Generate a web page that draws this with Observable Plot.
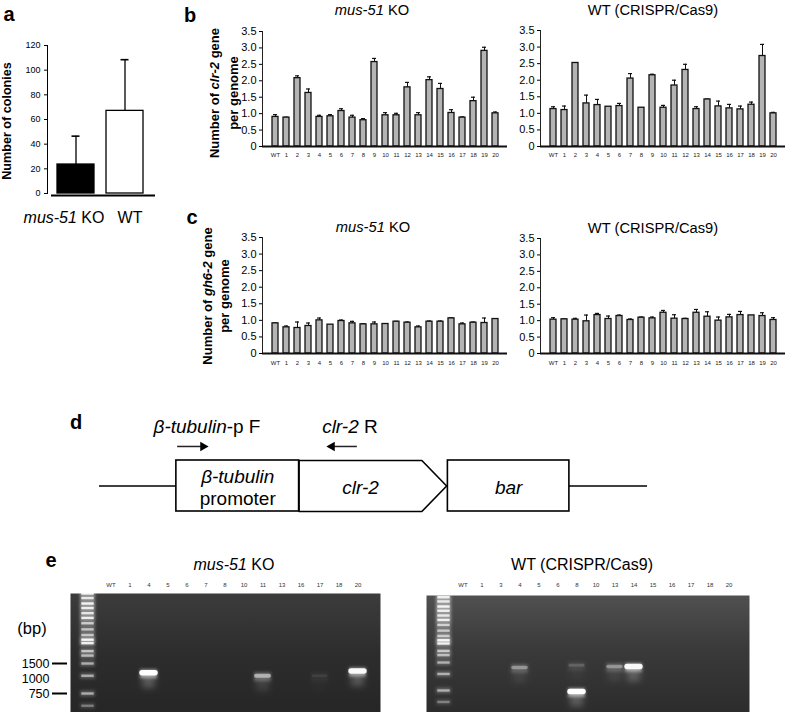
<!DOCTYPE html>
<html><head><meta charset="utf-8">
<script src="https://cdn.jsdelivr.net/npm/d3@7"></script>
<script src="https://cdn.jsdelivr.net/npm/@observablehq/plot@0.6"></script>
<style>
body{margin:0;background:#fff;}
#fig{position:relative;width:785px;height:712px;overflow:hidden;background:#fff;font-family:'Liberation Sans',Arial,Helvetica,sans-serif;color:#000;}
.t{position:absolute;transform:translate(-50%,-50%);white-space:nowrap;line-height:1;}
.r{transform:translate(-50%,-50%) rotate(-90deg);text-align:center;font-weight:bold;}
.L{font-weight:bold;font-size:20px;}
</style></head><body>
<div id="fig">
<div class="t L" style="left:9px;top:14px">a</div>
<div class="t L" style="left:190px;top:15px">b</div>
<div class="t L" style="left:192px;top:217px">c</div>
<div class="t L" style="left:76px;top:422px">d</div>
<div class="t L" style="left:51px;top:560px">e</div>
<div class="t r" style="left:7px;top:121px;font-size:12.6px">Number of colonies</div>
<div class="t r" style="left:224px;top:93px;font-size:13px;line-height:19px">Number of <i>clr-2</i> gene<br>per genome</div>
<div class="t r" style="left:216px;top:296px;font-size:13px;line-height:17px">Number of <i>gh6-2</i> gene<br>per genome</div>
<div class="t" style="left:372px;top:10px;font-size:14.7px"><i>mus-51</i> KO</div>
<div class="t" style="left:653px;top:10px;font-size:14.7px">WT (CRISPR/Cas9)</div>
<div class="t" style="left:373px;top:227px;font-size:14.7px"><i>mus-51</i> KO</div>
<div class="t" style="left:653px;top:228px;font-size:14.7px">WT (CRISPR/Cas9)</div>
<div class="t" style="left:234px;top:565px;font-size:16px"><i>mus-51</i> KO</div>
<div class="t" style="left:582px;top:565px;font-size:16px">WT (CRISPR/Cas9)</div>
<div class="t" style="left:32px;top:628px;font-size:16.5px">(bp)</div>
</div>
<script>
const FONT = "'Liberation Sans', Arial, Helvetica, sans-serif";
const NS = "http://www.w3.org/2000/svg";

// ---- panel a: colony counts ----
const colonyGroups = ["mus-51 KO", "WT"];
const colonyMean = [23.5, 67];
const colonySD = [23, 41.5];
const colonyTicks = [0, 20, 40, 60, 80, 100, 120];

// ---- panels b, c: copy numbers per genome ----
const clones = ["WT","1","2","3","4","5","6","7","8","9","10","11","12","13","14","15","16","17","18","19","20"];
const clrKO   = [0.90,0.88,2.08,1.63,0.90,0.92,1.08,0.88,0.80,2.57,0.95,0.95,1.80,0.95,2.02,1.75,1.02,0.88,1.38,2.91,1.01];
const clrKOsd = [0.07,0.01,0.07,0.12,0.05,0.05,0.07,0.07,0.05,0.11,0.08,0.06,0.15,0.08,0.10,0.17,0.10,0.02,0.12,0.11,0.04];
const clrWT   = [1.13,1.10,2.52,1.30,1.25,1.20,1.22,2.05,1.17,2.15,1.17,1.84,2.31,1.13,1.42,1.21,1.15,1.12,1.26,2.73,1.00];
const clrWTsd = [0.07,0.12,0.01,0.25,0.17,0.00,0.08,0.15,0.00,0.03,0.07,0.16,0.17,0.07,0.01,0.16,0.12,0.10,0.08,0.35,0.03];
const ghKO    = [0.91,0.79,0.77,0.83,1.00,0.87,0.98,0.91,0.88,0.88,0.89,0.96,0.93,0.79,0.96,0.96,1.06,0.88,0.93,0.92,1.04];
const ghKOsd  = [0.01,0.04,0.18,0.09,0.07,0.00,0.03,0.06,0.02,0.07,0.01,0.01,0.02,0.04,0.02,0.02,0.02,0.04,0.02,0.15,0.01];
const ghWT    = [1.03,1.04,1.03,0.98,1.17,1.05,1.14,1.02,1.09,1.07,1.24,1.06,1.05,1.24,1.12,1.00,1.10,1.17,1.16,1.14,1.02];
const ghWTsd  = [0.06,0.01,0.04,0.19,0.05,0.09,0.03,0.03,0.02,0.04,0.07,0.12,0.02,0.10,0.15,0.11,0.09,0.11,0.00,0.10,0.07];
const copyTicks = [0, 0.5, 1, 1.5, 2, 2.5, 3, 3.5];

// ---- panel d: construct map (arbitrary kb-like units) ----
const elementNames = ["*β-tubulin*\npromoter", "*clr-2*", "*bar*"];
const elementStart = [0.62, 1.61, 2.81];
const elementEnd   = [1.61, 2.80, 3.79];
const constructLength = 4.42;
const primerNames  = ["*β-tubulin*-p F", "*clr-2* R"];
const primerFrom   = [0.63, 2.08];
const primerTo     = [0.835, 1.875];
const primerLabelX = [0.867, 2.02];

// ---- panel e: PCR gels ----
const ladderBp = [7550,6800,6000,5400,4800,4300,3800,3300,2900,2600,2400,2000,1800,1500,1130,750,565];
const ladderI  = [0.85,0.8,0.9,0.85,0.8,0.85,0.65,0.6,0.6,0.9,0.85,0.6,0.55,0.5,0.5,0.5,0.3];
const markerBp = [1500, 750];      // markers drawn with a dash
const markerPlainBp = [1000];      // marker label without a dash
const lanesKO = ["WT","1","4","5","6","7","8","10","11","13","16","17","18","20"];
const bandLaneKO = ["4","11","17","20"];
const bandBpKO   = [1210, 1130, 1130, 1260];
const bandIKO    = [1.0, 0.5, 0.07, 0.95];
const lanesWT = ["WT","1","3","4","5","6","8","10","13","14","15","16","17","18","20"];
const bandLaneWT = ["4","8","8","13","14"];
const bandBpWT   = [1325, 1400, 731, 1360, 1360];
const bandIWT    = [0.35, 0.15, 1.0, 0.35, 0.95];

const fig = document.getElementById("fig");
const baseStyle = {fontFamily: FONT, background: "transparent", overflow: "visible", color: "#000"};

function italicize(root) {
  root.querySelectorAll("text, tspan").forEach(el => {
    if (el.childElementCount) return;
    const s = el.textContent;
    if (!s.includes("*")) return;
    el.textContent = "";
    s.split("*").forEach((part, k) => {
      if (!part) return;
      const t = document.createElementNS(NS, "tspan");
      if (k % 2) t.setAttribute("font-style", "italic");
      t.textContent = part;
      el.appendChild(t);
    });
  });
}
function place(svg, left, top) {
  svg.style.position = "absolute";
  svg.style.left = left + "px";
  svg.style.top = top + "px";
  svg.style.maxWidth = "none";
  italicize(svg);
  fig.appendChild(svg);
  return svg;
}

// ---- panel a ----
{
  const aData = colonyGroups.map((g, i) => ({g, v: colonyMean[i], hi: colonyMean[i] + colonySD[i]}));
  const ital = d => d.replace("mus-51", "*mus-51*");
  const svg = Plot.plot({
    width: 160, height: 230, marginLeft: 47, marginRight: 5, marginTop: 45, marginBottom: 37,
    style: baseStyle,
    x: {type: "band", domain: colonyGroups, paddingInner: 0.24, paddingOuter: 0.215, align: 0.46},
    y: {domain: [0, 120]},
    color: {domain: colonyGroups, range: ["#000", "#fff"]},
    marks: [
      Plot.frame({anchor: "left", strokeWidth: 1}),
      Plot.axisY(colonyTicks, {tickSize: 3, tickPadding: 4, fontSize: 9, label: null}),
      Plot.axisX([colonyGroups[0]], {tickSize: 0, tickPadding: 18, fontSize: 16, dx: -12, label: null, tickFormat: ital}),
      Plot.axisX([colonyGroups[1]], {tickSize: 0, tickPadding: 18, fontSize: 16, dx: 5, label: null, tickFormat: ital}),
      Plot.ruleX(aData, {x: "g", y1: "v", y2: "hi", strokeWidth: 1.3}),
      Plot.tickY(aData, {x: "g", y: "hi", insetLeft: 14.5, insetRight: 14.5, strokeWidth: 1.6}),
      Plot.barY(aData, {x: "g", y: "v", fill: "g", stroke: "#000", strokeWidth: 1.3}),
      Plot.ruleY([0], {strokeWidth: 2, dy: 2, insetLeft: 4})
    ]
  });
  place(svg, 0, 0);
}

// ---- panels b, c ----
function qpcr(values, sds, left, top, width, height, ml, mt, mb, tp) {
  const data = clones.map((c, i) => ({clone: c, v: values[i], sd: sds[i], hi: values[i] + sds[i]}));
  const err = data.filter(d => d.sd > 0);
  const svg = Plot.plot({
    width, height, marginLeft: ml, marginRight: 0, marginTop: mt, marginBottom: mb,
    style: baseStyle,
    x: {type: "band", domain: clones, paddingInner: 0.48, paddingOuter: 0.435},
    y: {domain: [0, 3.5]},
    marks: [
      Plot.frame({anchor: "left", stroke: "#222"}),
      Plot.axisY(copyTicks, {tickSize: 3, tickPadding: 3, fontSize: 11, label: null, tickFormat: d => d === 0 ? "0" : d.toFixed(1)}),
      Plot.axisX(clones, {tickSize: 0, tickPadding: tp, fontSize: 6, label: null, fill: "#222"}),
      Plot.ruleX(err, {x: "clone", y1: "v", y2: "hi", stroke: "#111", strokeWidth: 1}),
      Plot.tickY(err, {x: "clone", y: "hi", stroke: "#111", insetLeft: 1, insetRight: 1, strokeWidth: 1.2}),
      Plot.barY(data, {x: "clone", y: "v", fill: "#b4b4b4", stroke: "#111", strokeWidth: 1.3}),
      Plot.ruleY([0], {stroke: "#111", strokeWidth: 2})
    ]
  });
  place(svg, left, top);
}
qpcr(clrKO, clrKOsd, 190, 0, 317, 165, 72, 31, 19, 6.5);
qpcr(clrWT, clrWTsd, 480, 0, 305, 165, 60, 30, 19, 6.5);
qpcr(ghKO, ghKOsd, 190, 200, 317, 175, 72, 37, 22, 7.5);
qpcr(ghWT, ghWTsd, 480, 200, 305, 175, 60, 38, 22, 7.5);

// ---- panel d ----
{
  const elems = elementNames.map((n, i) => ({name: n, start: elementStart[i], end: elementEnd[i]}));
  const tipLen = 0.2;
  const boxes = elems.filter(d => d.name !== "*clr-2*");
  const cds = elems.find(d => d.name === "*clr-2*");
  const pent = [[cds.start, 1], [cds.end - tipLen, 1], [cds.end, 0], [cds.end - tipLen, -1], [cds.start, -1]].map(([x, y]) => ({x, y}));
  const labels = elems.map(d => ({name: d.name, x: d === cds ? (d.start + d.end - tipLen) / 2 : (d.start + d.end) / 2}));
  const flanks = [{start: 0, end: elementStart[0]}, {start: elementEnd[elementEnd.length - 1], end: constructLength}];
  const primers = primerNames.map((n, i) => ({name: n, from: primerFrom[i], to: primerTo[i], lx: primerLabelX[i], dir: Math.sign(primerTo[i] - primerFrom[i])}));
  const svg = Plot.plot({
    width: 785, height: 150, margin: 0,
    style: baseStyle,
    x: {domain: [0, constructLength], range: [99, 647], axis: null},
    y: {domain: [-1, 1], range: [121, 70], axis: null},
    marks: [
      Plot.ruleY(flanks, {x1: "start", x2: "end", y: 0, strokeWidth: 1.6}),
      Plot.rect(boxes, {x1: "start", x2: "end", y1: -1, y2: 1, fill: "white", stroke: "#000", strokeWidth: 1.6}),
      Plot.line(pent, {x: "x", y: "y", curve: "linear-closed", fill: "white", stroke: "#000", strokeWidth: 1.6}),
      Plot.text(labels, {x: "x", y: 0, text: "name", fontSize: 19, lineHeight: 1.16, dy: 1}),
      Plot.ruleY(primers, {x1: "from", x2: "to", y: 1.55, stroke: "#222", strokeWidth: 1.5}),
      Plot.dot(primers, {x: "to", y: 1.55, symbol: "triangle", r: 3.6, fill: "#000", stroke: "none", rotate: d => d.dir > 0 ? 90 : -90}),
      Plot.text(primers, {x: "lx", y: 2.33, text: "name", fontSize: 19})
    ]
  });
  place(svg, 0, 390);
}

// ---- panel e (y: migration on log10 of fragment size) ----
const lg = Math.log10;
function gel(lanes, bandLane, bandBp, bandI, left, top, ml, mr, mt, xr, yr, ladderDx, id, grad, showAxis, tp) {
  const ladder = ladderBp.map((bp, i) => ({lane: "M", bp, i: ladderI[i]}));
  const bands = bandLane.map((l, i) => ({lane: l, bp: bandBp[i], i: bandI[i]}));
  const Y = d => lg(d.bp);
  const fmt = d => String(Math.round(10 ** d));
  const marks = [
    Plot.frame({fill: `url(#${id}g)`, stroke: "none"}),
    Plot.tickY(ladder, {x: "lane", y: Y, stroke: "white", strokeOpacity: d => d.i * 0.45, strokeWidth: 6, insetLeft: 2, insetRight: 2, dx: ladderDx, ariaDescription: "ladder glow"}),
    Plot.tickY(ladder, {x: "lane", y: Y, stroke: "white", strokeOpacity: "i", strokeWidth: 2.4, insetLeft: 3.3, insetRight: 3.3, dx: ladderDx, ariaDescription: "ladder"}),
    Plot.tickY(bands, {x: "lane", y: Y, stroke: "white", strokeOpacity: d => d.i * 0.22, strokeWidth: 14, dy: 8, insetLeft: 3, insetRight: 3, ariaDescription: "band smear"}),
    Plot.tickY(bands, {x: "lane", y: Y, stroke: "white", strokeOpacity: d => d.i * 0.5, strokeWidth: 9, dy: 1, insetLeft: 1, insetRight: 1, ariaDescription: "band glow"}),
    Plot.tickY(bands, {x: "lane", y: Y, stroke: "white", strokeOpacity: "i", strokeWidth: d => 2.5 + 3 * d.i, insetLeft: 3, insetRight: 3, strokeLinecap: "round", ariaDescription: "band"}),
    Plot.axisX(lanes, {anchor: "top", tickSize: 0, tickPadding: tp, fontSize: 6, label: null, fill: "#333"})
  ];
  if (showAxis) {
    marks.push(Plot.axisY(markerBp.map(lg), {anchor: "left", tickSize: 15, tickPadding: 3, dx: -3, strokeWidth: 2, fontSize: 12.5, label: null, tickFormat: fmt}));
    marks.push(Plot.axisY(markerPlainBp.map(lg), {anchor: "left", tickSize: 0, tickPadding: 18, dx: -3, dy: -2.5, fontSize: 12.5, label: null, tickFormat: fmt}));
  }
  const svg = Plot.plot({
    width: 385, height: 152, marginLeft: ml, marginRight: mr, marginTop: mt, marginBottom: 0,
    style: baseStyle,
    x: {type: "band", domain: ["M", ...lanes], range: xr, padding: 0},
    y: {type: "linear", domain: [lg(1500), lg(750)], range: yr, axis: showAxis ? undefined : null},
    marks
  });
  const defs = document.createElementNS(NS, "defs");
  defs.innerHTML = grad +
    `<filter id="${id}b1" filterUnits="userSpaceOnUse" x="-20" y="-20" width="440" height="200"><feGaussianBlur stdDeviation="3"/></filter>` +
    `<filter id="${id}b2" filterUnits="userSpaceOnUse" x="-20" y="-20" width="440" height="200"><feGaussianBlur stdDeviation="1.6"/></filter>` +
    `<filter id="${id}b3" filterUnits="userSpaceOnUse" x="-20" y="-20" width="440" height="200"><feGaussianBlur stdDeviation="0.7"/></filter>`;
  svg.insertBefore(defs, svg.firstChild);
  const groups = svg.querySelectorAll("g");
  const setF = (lbl, f) => groups.forEach(g => { if (g.getAttribute("aria-description") === lbl) g.setAttribute("filter", `url(#${id}${f})`); });
  setF("band smear", "b1");
  setF("band glow", "b2");
  setF("ladder glow", "b2");
  setF("band", "b3");
  setF("ladder", "b3");
  place(svg, left, top);
}
gel(lanesKO, bandLaneKO, bandBpKO, bandIKO, 0, 560, 70, 5, 33, [77.6, 371.6], [103, 133], -4, "gk",
  `<linearGradient id="gkg" x1="0" y1="0" x2="0" y2="1"><stop offset="0" stop-color="#3c3c3c"/><stop offset="0.5" stop-color="#2d2d2d"/><stop offset="1" stop-color="#262626"/></linearGradient>`, true, 7);
gel(lanesWT, bandLaneWT, bandBpWT, bandIWT, 400, 560, 26, 36, 35, [29.6, 343.2], [102, 130], 0, "gw",
  `<linearGradient id="gwg" x1="0" y1="0" x2="0" y2="1"><stop offset="0" stop-color="#505050"/><stop offset="0.45" stop-color="#3a3a3a"/><stop offset="1" stop-color="#2c2c2c"/></linearGradient>`, false, 9);
</script>
</body></html>
